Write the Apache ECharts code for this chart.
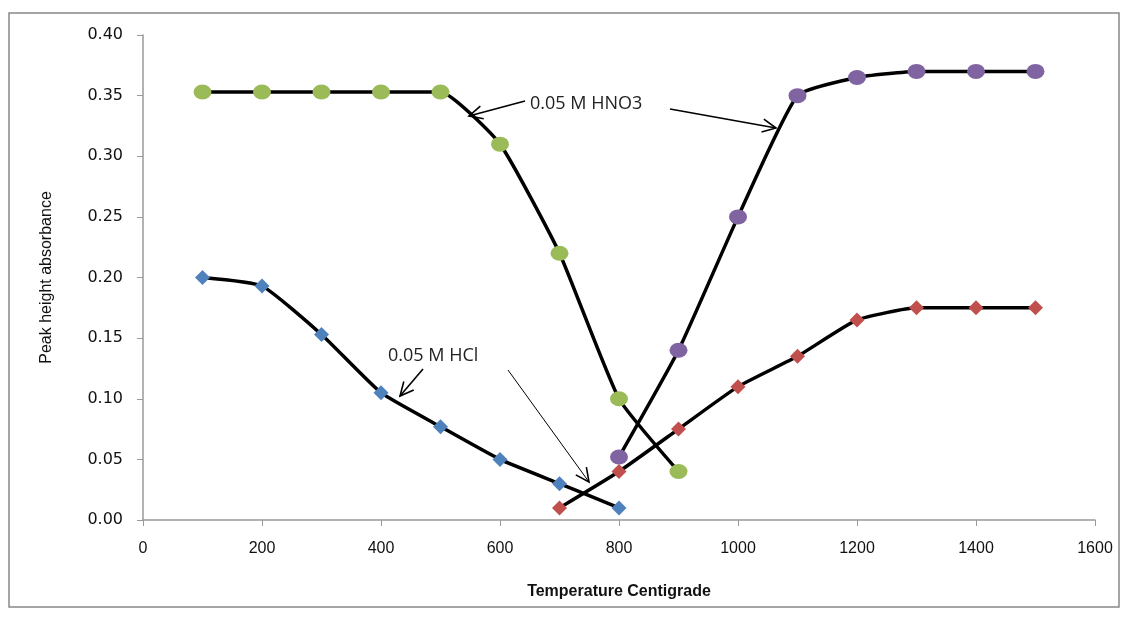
<!DOCTYPE html>
<html>
<head>
<meta charset="utf-8">
<script src="https://cdn.jsdelivr.net/npm/echarts@6/dist/echarts.min.js"></script>
<style>
  html, body { margin: 0; padding: 0; background: #fff; }
  #main { width: 1128px; height: 619px; }
</style>
</head>
<body>
<div id="main"></div>
<script>
// temperatures and peak heights
var hno3AshX = [100, 200, 300, 400, 500, 600, 700, 800, 900];
var hno3AshY = [0.353, 0.353, 0.353, 0.353, 0.353, 0.31, 0.22, 0.10, 0.04];
var hno3AtomX = [800, 900, 1000, 1100, 1200, 1300, 1400, 1500];
var hno3AtomY = [0.052, 0.14, 0.25, 0.35, 0.365, 0.37, 0.37, 0.37];
var hclAshX = [100, 200, 300, 400, 500, 600, 700, 800];
var hclAshY = [0.20, 0.193, 0.153, 0.105, 0.077, 0.05, 0.03, 0.01];
var hclAtomX = [700, 800, 900, 1000, 1100, 1200, 1300, 1400, 1500];
var hclAtomY = [0.01, 0.04, 0.075, 0.11, 0.135, 0.165, 0.175, 0.175, 0.175];

function pairs(xs, ys) {
  var out = [];
  for (var i = 0; i < xs.length; i++) out.push([xs[i], ys[i]]);
  return out;
}

// open V arrowhead pointing to (tx,ty)
function arrow(sx, sy, tx, ty, w) {
  var a = Math.atan2(ty - sy, tx - sx);
  var L = 15, sp = 0.45;
  var p1 = [tx - L * Math.cos(a - sp), ty - L * Math.sin(a - sp)];
  var p2 = [tx - L * Math.cos(a + sp), ty - L * Math.sin(a + sp)];
  return [
    { type: 'line', shape: { x1: sx, y1: sy, x2: tx, y2: ty }, style: { stroke: '#000', lineWidth: w } },
    { type: 'polyline', shape: { points: [p1, [tx, ty], p2] }, style: { stroke: '#000', lineWidth: 1.6, fill: null } }
  ];
}

var lineStyle = { color: '#000', width: 3.5 };

function series(xs, ys, color, sym, size) {
  return {
    type: 'line',
    data: pairs(xs, ys),
    smooth: 0.15,
    symbol: sym,
    symbolSize: size,
    showSymbol: true,
    lineStyle: lineStyle,
    itemStyle: { color: color },
    emphasis: { disabled: true },
    z: 3
  };
}

var chart = echarts.init(document.getElementById('main'));

var graphics = [
  { type: 'rect', shape: { x: 9, y: 13, width: 1110, height: 594 }, style: { stroke: '#888', lineWidth: 1.5, fill: null }, z: -1 },
  { type: 'text', left: 530, top: 95, style: { text: '0.05 M HNO3', font: '18px "Open Sans", sans-serif', fill: '#222' } },
  { type: 'text', left: 388, top: 347, style: { text: '0.05 M HCl', font: '18px "Open Sans", sans-serif', fill: '#222' } }
];
graphics = graphics
  .concat(arrow(525, 101, 469, 116, 1.6))
  .concat(arrow(670, 109, 776, 128, 1.6))
  .concat(arrow(423, 369, 400, 396, 1.6))
  .concat(arrow(508, 370, 589, 482, 1));

var option = {
  animation: false,
  grid: { left: 143, right: 33, top: 35, bottom: 99 },
  xAxis: {
    type: 'value',
    min: 0, max: 1600, interval: 200,
    name: 'Temperature Centigrade',
    nameLocation: 'middle',
    nameGap: 64,
    nameTextStyle: { fontFamily: 'Liberation Sans Narrow, Liberation Sans, sans-serif', fontWeight: 'bold', fontSize: 16, color: '#111' },
    axisLine: { lineStyle: { color: '#999', width: 1.5 } },
    axisTick: { show: true, length: 6, lineStyle: { color: '#999' } },
    axisLabel: { color: '#111', fontSize: 16, margin: 21, fontFamily: 'Liberation Sans Narrow, Liberation Sans, sans-serif', formatter: function (v) { return String(v); } },
    splitLine: { show: false }
  },
  yAxis: {
    type: 'value',
    min: 0, max: 0.4, interval: 0.05,
    name: 'Peak height absorbance',
    nameLocation: 'middle',
    nameGap: 88,
    nameTextStyle: { fontFamily: 'Liberation Sans Narrow, Liberation Sans, sans-serif', fontSize: 16, color: '#111' },
    axisLine: { show: true, lineStyle: { color: '#999', width: 1.5 } },
    axisTick: { show: true, length: 6, lineStyle: { color: '#999' } },
    axisLabel: { color: '#111', fontSize: 16, margin: 20, fontFamily: 'DejaVu Sans, sans-serif', formatter: function (v) { return v.toFixed(2); } },
    splitLine: { show: false }
  },
  series: [
    series(hno3AshX, hno3AshY, '#9BBB59', 'circle', [18, 15]),
    series(hno3AtomX, hno3AtomY, '#8064A2', 'circle', [18, 15]),
    series(hclAshX, hclAshY, '#4F81BD', 'diamond', [15, 15]),
    series(hclAtomX, hclAtomY, '#C0504D', 'diamond', [15, 15])
  ],
  graphic: graphics
};

chart.setOption(option);
</script>
</body>
</html>
